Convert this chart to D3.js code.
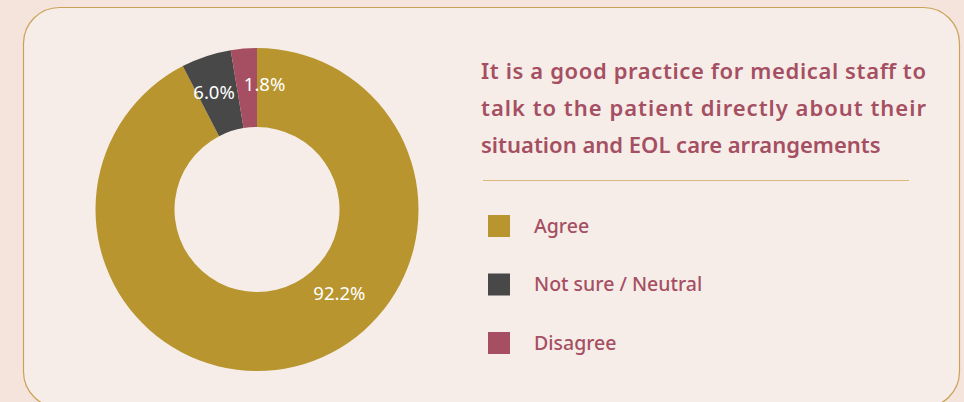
<!DOCTYPE html>
<html>
<head>
<meta charset="utf-8">
<script src="https://cdn.jsdelivr.net/npm/d3@7"></script>
<style>
  html, body { margin: 0; padding: 0; background: #f4e4dc; }
  svg { display: block; }
</style>
</head>
<body>
<svg id="chart" width="964" height="402"></svg>
<script>
// ---- data ----
const categories = ["Agree", "Not sure / Neutral", "Disagree"];
const values = [92.2, 6.0, 1.8];          // printed percentages
const arcShares = [92.4, 5.0, 2.6];       // slice sizes as drawn in the picture
const colors = ["#b8952f", "#484848", "#a64f62"];
const titleLines = [
  "It is a good practice for medical staff to",
  "talk to the patient directly about their",
  "situation and EOL care arrangements"
];

const svg = d3.select("#chart");
const W = 964, H = 402;
const font = "'Noto Sans', 'Open Sans', sans-serif";

// background panel
svg.append("rect").attr("x", 0).attr("y", 0).attr("width", W).attr("height", H).attr("fill", "#f4e4dc");
svg.append("rect")
  .attr("x", 23.5).attr("y", 7.5).attr("width", 936).attr("height", 400)
  .attr("rx", 36).attr("ry", 36)
  .attr("fill", "#f7ede8").attr("stroke", "#c9a257").attr("stroke-width", 1.2);

// donut
const cx = 257, cy = 209.5, rOuter = 161.5, rInner = 82.5;
const data = categories.map((c, i) => ({ cat: c, value: values[i], share: arcShares[i], color: colors[i] }));
const pie = d3.pie().value(d => d.share).sort(null);
const arc = d3.arc().innerRadius(rInner).outerRadius(rOuter);
const arcs = pie(data);

const g = svg.append("g").attr("transform", `translate(${cx},${cy})`);
g.selectAll("path").data(arcs).join("path")
  .attr("d", arc)
  .attr("fill", d => d.data.color);

// labels: at arc centroid, nudged to match layout
const nudge = { "Agree": [53.5, -34.5], "Not sure / Neutral": [-4.5, -1.5], "Disagree": [17.5, -3.5] };
g.selectAll("text.lbl").data(arcs).join("text")
  .attr("class", "lbl")
  .attr("x", d => arc.centroid(d)[0] + nudge[d.data.cat][0])
  .attr("y", d => arc.centroid(d)[1] + nudge[d.data.cat][1])
  .attr("text-anchor", "middle")
  .attr("dy", "0.36em")
  .attr("fill", "#ffffff")
  .attr("font-family", font)
  .attr("font-size", 18.5)
  .text(d => d.data.value.toFixed(1) + "%");

// title
const titleG = svg.append("g");
titleLines.forEach((t, i) => {
  const tx = titleG.append("text")
    .attr("x", 481)
    .attr("y", 79 + i * 37)
    .attr("fill", "#a54f63")
    .attr("font-family", font)
    .attr("font-weight", 600)
    .attr("font-size", 22)
    .text(t);
  if (i < titleLines.length - 1) {
    tx.attr("textLength", 445).attr("lengthAdjust", "spacing");
  }
});

// divider
svg.append("line")
  .attr("x1", 483).attr("x2", 909).attr("y1", 180.5).attr("y2", 180.5)
  .attr("stroke", "#d9b878").attr("stroke-width", 1.2);

// legend
const leg = svg.append("g");
const legY = d3.scalePoint().domain(categories).range([226, 343]);
const items = leg.selectAll("g").data(data).join("g")
  .attr("transform", d => `translate(488,${legY(d.cat)})`);
items.append("rect")
  .attr("x", 0).attr("y", -11).attr("width", 22).attr("height", 22)
  .attr("fill", d => d.color);
items.append("text")
  .attr("x", 46).attr("y", 0).attr("dy", "0.35em")
  .attr("fill", "#a54f63")
  .attr("font-family", font)
  .attr("font-weight", 500)
  .attr("font-size", 19.5)
  .text(d => d.cat);
</script>
</body>
</html>
